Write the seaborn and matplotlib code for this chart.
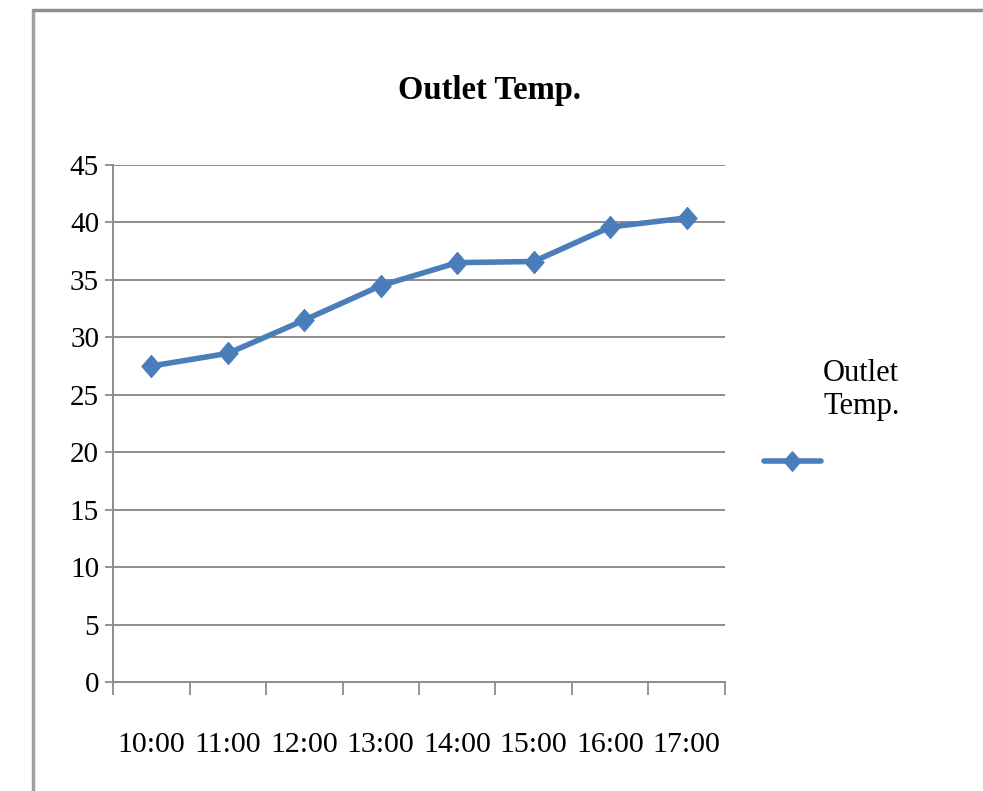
import matplotlib
matplotlib.use('Agg')
import matplotlib.pyplot as plt
from matplotlib.lines import Line2D
import seaborn as sns
import pandas as pd

# data
hours = ['10:00', '11:00', '12:00', '13:00', '14:00', '15:00', '16:00', '17:00']
outlet_temp = [27.5, 28.6, 31.5, 34.5, 36.5, 36.6, 39.6, 40.4]
y_ticks = [0, 5, 10, 15, 20, 25, 30, 35, 40, 45]
series_name = 'Outlet Temp.'

blue = '#4A7EBB'
grey = '#8C8C8C'
# slightly tall diamond like the Excel marker
diamond = [(0, 1.15), (1, 0), (0, -1.15), (-1, 0), (0, 1.15)]

sns.set_style('white')
plt.rcParams['font.family'] = ['Liberation Serif', 'DejaVu Serif']
plt.rcParams['text.color'] = 'black'

df = pd.DataFrame({'pos': range(len(hours)), 'temp': outlet_temp})

fig = plt.figure(figsize=(9.83, 7.91), dpi=100)
ax = fig.add_axes([113 / 983, 1 - 682 / 791, (725 - 113) / 983, (682 - 165) / 791])

sns.lineplot(data=df, x='pos', y='temp', ax=ax, color=blue, linewidth=4,
             marker=diamond, markersize=16, markeredgecolor=blue, legend=False)

ax.set_ylim(0, 45)
ax.set_yticks(y_ticks)
ax.set_yticklabels([str(v) for v in y_ticks], fontsize=21)
ax.set_xlim(-0.5, len(hours) - 0.5)
ax.set_xticks([i - 0.5 for i in range(len(hours) + 1)])
ax.set_xticklabels([])
ax.set_xticks(range(len(hours)), minor=True)
ax.set_xticklabels(hours, minor=True, fontsize=21.5)
ax.tick_params(axis='x', which='major', direction='out', length=9.5, width=1.3,
               color=grey, bottom=True)
ax.tick_params(axis='x', which='minor', length=0, pad=36, labelcolor='black')
ax.tick_params(axis='y', direction='out', length=6, width=1.3, color=grey,
               left=True, pad=4, labelcolor='black')
ax.set_xlabel('')
ax.set_ylabel('')

ax.grid(axis='y', color=grey, linewidth=1.4)
ax.grid(axis='x', visible=False)
ax.set_axisbelow(True)
for side in ['top', 'right']:
    ax.spines[side].set_visible(False)
for side in ['left', 'bottom']:
    ax.spines[side].set_color(grey)
    ax.spines[side].set_linewidth(1.4)

fig.text(489 / 983, 1 - 91 / 791, series_name, ha='center', va='center',
         fontsize=23.5, fontweight='bold', color='black')

# legend: handle below the wrapped series name, as in the Excel export
handle = Line2D([], [], color=blue, linewidth=4, marker=diamond, markersize=14,
                markeredgecolor=blue)
fig.legend([handle], [''], loc='center left',
           bbox_to_anchor=(764 / 983, 1 - 464 / 791), frameon=False,
           fontsize=22, handlelength=1.85, handletextpad=0, borderpad=0,
           borderaxespad=0)
fig.text(823 / 983, 1 - 359 / 791, 'Outlet\nTemp.', ha='left', va='top',
         multialignment='left', fontsize=22, linespacing=1.2, color='black')

# page frame around the chart
fig.add_artist(Line2D([33 / 983, 33 / 983], [0, 1 - 10 / 791], color='#A0A0A0',
                      linewidth=2.5, transform=fig.transFigure))
fig.add_artist(Line2D([33 / 983, 1], [1 - 10 / 791, 1 - 10 / 791], color='#909090',
                      linewidth=2.5, transform=fig.transFigure))

fig.savefig('out.png', dpi=100)
